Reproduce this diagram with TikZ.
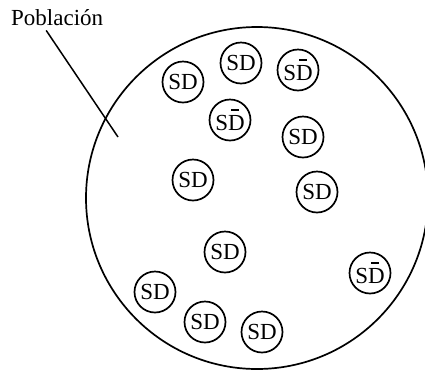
\documentclass[tikz,border=0pt]{standalone}
\usepackage{fontspec}
\setmainfont{Liberation Serif}
\usetikzlibrary{positioning}

% D con barra encima
\newcommand{\Dbar}{\makebox[0pt][l]{\hspace{0.12em}\rule[0.84em]{0.36em}{0.07em}}D}

\begin{document}
\begin{tikzpicture}[
  x=1pt, y=-1pt,
  pop/.style = {circle, draw, line width=1.7pt, minimum size=342pt, inner sep=0pt},
  sd/.style  = {circle, draw, line width=1.7pt, minimum size=41pt, inner sep=0pt,
                font=\fontsize{23}{25}\selectfont},
  lbl/.style = {font=\fontsize{23}{25}\selectfont, inner sep=0pt}
]
  \useasboundingbox (0,0) rectangle (425,373);

  \node[pop] (P) at (257,198) {};
  \node[lbl, anchor=base west] (L) at (11,25) {Población};
  \coordinate (tip) at (118,137);
  \draw[line width=1.5pt] ([xshift=-11pt,yshift=-5pt]L.south) -- (tip);

  % individuos
  \node[sd] (s1)  at (183,82)  {SD};
  \node[sd] (s2)  at (241,63)  {SD};
  \node[sd] (s3)  at (298,70)  {S\Dbar};
  \node[sd] (s4)  at (230,120) {S\Dbar};
  \node[sd] (s5)  at (303,137) {SD};
  \node[sd] (s6)  at (193,180) {SD};
  \node[sd] (s7)  at (317,192) {SD};
  \node[sd] (s8)  at (225,252) {SD};
  \node[sd] (s9)  at (370,273) {S\Dbar};
  \node[sd] (s10) at (155,292) {SD};
  \node[sd] (s11) at (205,322) {SD};
  \node[sd] (s12) at (262,332) {SD};
\end{tikzpicture}
\end{document}
